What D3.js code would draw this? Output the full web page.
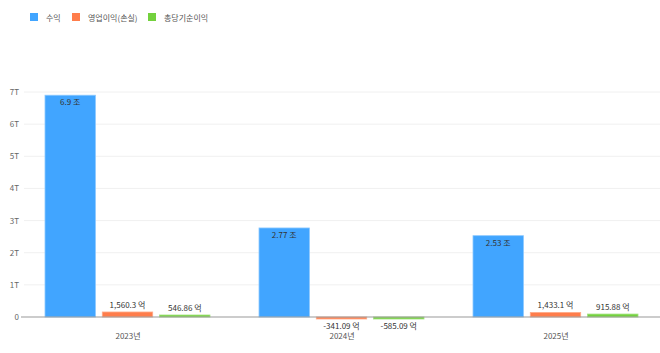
<!DOCTYPE html>
<html>
<head>
<meta charset="utf-8">
<script src="https://cdn.jsdelivr.net/npm/d3@7"></script>
<style>
  body { margin: 0; background: #fff; font-family: "Noto Sans CJK KR", "Noto Sans", sans-serif; }
  svg { display: block; }
</style>
</head>
<body>
<svg id="chart"></svg>
<script>
var years = ["2023년", "2024년", "2025년"];
var seriesNames = ["수익", "영업이익(손실)", "총당기순이익"];
var revenue = [6.9e12, 2.77e12, 2.53e12];
var operating = [1560.3e8, -341.09e8, 1433.1e8];
var netIncome = [546.86e8, -585.09e8, 915.88e8];
var labels = [
  ["6.9 조", "2.77 조", "2.53 조"],
  ["1,560.3 억", "-341.09 억", "1,433.1 억"],
  ["546.86 억", "-585.09 억", "915.88 억"]
];
var yTicks = [0, 1e12, 2e12, 3e12, 4e12, 5e12, 6e12, 7e12];
var colors = ["#41a5ff", "#ff7d4b", "#73d13d"];
var strokes = ["#8cc8ff", "#ffab8a", "#a3e27f"];

var width = 660, height = 353;
var svg = d3.select("#chart").attr("width", width).attr("height", height);

var x = d3.scaleBand().domain(years).range([21, 663]);
var sub = d3.scaleBand().domain([0, 1, 2]).range([24, x.bandwidth() - 25]).paddingInner(0.12);
var y = d3.scaleLinear().domain([0, 7e12]).range([317, 92]);

// grid
svg.append("g").selectAll("line")
  .data(yTicks.slice(1))
  .enter().append("line")
  .attr("x1", 24).attr("x2", width)
  .attr("y1", function(d) { return y(d); })
  .attr("y2", function(d) { return y(d); })
  .attr("stroke", "#f0f0f0");

svg.append("g").selectAll("text")
  .data(yTicks)
  .enter().append("text")
  .attr("x", 19)
  .attr("y", function(d) { return y(d) + 3; })
  .attr("text-anchor", "end")
  .attr("font-size", 8)
  .attr("fill", "#666")
  .text(function(d) { return d === 0 ? "0" : (d / 1e12) + "T"; });

var allSeries = [revenue, operating, netIncome];

allSeries.forEach(function(vals, si) {
  var g = svg.append("g");
  g.selectAll("rect")
    .data(vals)
    .enter().append("rect")
    .attr("x", function(d, i) { return x(years[i]) + sub(si); })
    .attr("width", sub.bandwidth())
    .attr("y", function(d) {
      var h = Math.max(2, Math.abs(y(d) - y(0)));
      return d >= 0 ? y(0) - h : y(0);
    })
    .attr("height", function(d) { return Math.max(2, Math.abs(y(d) - y(0))); })
    .attr("fill", colors[si])
    .attr("stroke", strokes[si])
    .attr("stroke-width", 0.8);

  g.selectAll("text")
    .data(vals)
    .enter().append("text")
    .attr("x", function(d, i) { return x(years[i]) + sub(si) + sub.bandwidth() / 2; })
    .attr("y", function(d) {
      if (si === 0) return y(d) + 10;
      if (d < 0) return y(0) + 12;
      return y(d) - 4;
    })
    .attr("text-anchor", "middle")
    .attr("font-size", 8)
    .attr("fill", "#333")
    .text(function(d, i) { return labels[si][i]; });
});

// x axis
svg.append("line")
  .attr("x1", 21).attr("x2", width)
  .attr("y1", y(0)).attr("y2", y(0))
  .attr("stroke", "#999");

svg.append("g").selectAll("text")
  .data(years)
  .enter().append("text")
  .attr("x", function(d) { return x(d) + x.bandwidth() / 2; })
  .attr("y", 339)
  .attr("text-anchor", "middle")
  .attr("font-size", 8)
  .attr("fill", "#555")
  .text(function(d) { return d; });

// legend
var legendX = [30, 72, 148];
var lg = svg.append("g").selectAll("g")
  .data(seriesNames)
  .enter().append("g")
  .attr("transform", function(d, i) { return "translate(" + legendX[i] + ",13)"; });
lg.append("rect").attr("width", 8).attr("height", 8)
  .attr("fill", function(d, i) { return colors[i]; });
lg.append("text").attr("x", 16).attr("y", 7.5)
  .attr("font-size", 8).attr("fill", "#555")
  .text(function(d) { return d; });
</script>
</body>
</html>
